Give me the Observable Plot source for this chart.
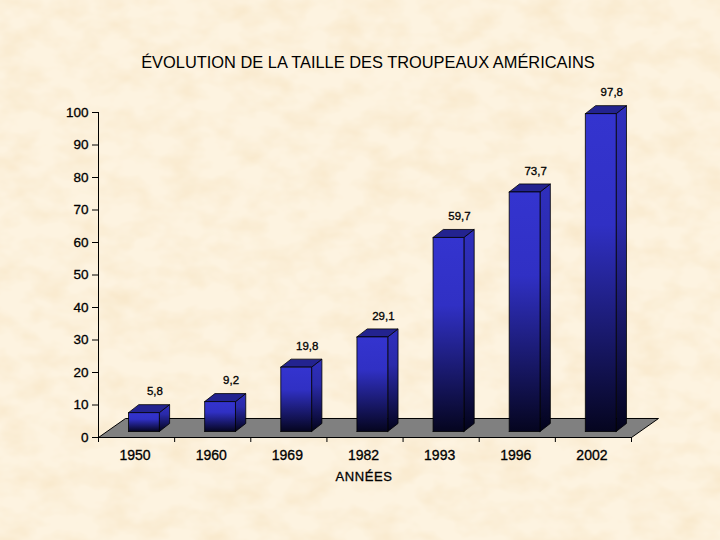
<!DOCTYPE html>
<html>
<head>
<meta charset="utf-8">
<script src="https://cdn.jsdelivr.net/npm/d3@7"></script>
<script src="https://cdn.jsdelivr.net/npm/@observablehq/plot@0.6"></script>
<style>
html,body{margin:0;padding:0;width:720px;height:540px;overflow:hidden;background-color:#fdf3e0;}
body{background-image:url("data:image/svg+xml,%3Csvg xmlns='http://www.w3.org/2000/svg' width='720' height='540'%3E%3Cfilter id='n' x='0' y='0' width='100%25' height='100%25'%3E%3CfeTurbulence type='fractalNoise' baseFrequency='0.03 0.045' numOctaves='3' seed='7'/%3E%3CfeColorMatrix values='0 0 0 0 0.93 0 0 0 0 0.78 0 0 0 0 0.55 1.3 0 0 0 -0.48'/%3E%3C/filter%3E%3Crect width='720' height='540' filter='url(%23n)'/%3E%3C/svg%3E");}
#title{box-sizing:border-box;width:720px;height:80px;padding:54px 0 0 16px;text-align:center;font:16.4px/16px "Liberation Sans",Arial,sans-serif;color:#000;white-space:nowrap;}
svg text{stroke:#000;stroke-width:.3px;}
svg{display:block;background:transparent !important;}
</style>
</head>
<body>
<div id="title">ÉVOLUTION DE LA TAILLE DES TROUPEAUX AMÉRICAINS</div>
<script>
const years = ["1950","1960","1969","1982","1993","1996","2002"];
const values = [5.8,9.2,19.8,29.1,59.7,73.7,97.8];
const labels = ["5,8","9,2","19,8","29,1","59,7","73,7","97,8"];
const yTicks = [0,10,20,30,40,50,60,70,80,90,100];
const xLabel = "ANNÉES";

// 3D projection, in data units of the two scales
const floorDepthX = 0.355, floorDepthY = 5.85;
const barInset = 0.394, barWidth = 0.405, barBase = 1.85;
const depthX = 0.135, depthY = 2.46;

const floor = [[0,0],[7,0],[7+floorDepthX,floorDepthY],[floorDepthX,floorDepthY],[0,0]].map(([x,y])=>({x,y}));

function poly(fn){
  return values.flatMap((v,i)=>{
    const l=i+barInset, r=l+barWidth, b=barBase, t=barBase+v;
    return fn(l,r,b,t).map(([x,y])=>({i,x,y}));
  });
}
const front = poly((l,r,b,t)=>[[l,b],[r,b],[r,t],[l,t],[l,b]]);
const side  = poly((l,r,b,t)=>[[r,b],[r+depthX,b+depthY],[r+depthX,t+depthY],[r,t],[r,b]]);
const top_  = poly((l,r,b,t)=>[[l,t],[r,t],[r+depthX,t+depthY],[l+depthX,t+depthY],[l,t]]);
const rows  = years.map((year,i)=>({year,i,v:values[i],label:labels[i]}));

const font = '"Liberation Sans",Arial,sans-serif';
const plot = Plot.plot({
  width:720, height:460,
  marginLeft:98, marginRight:89, marginTop:32, marginBottom:103,
  style:{background:"transparent",fontFamily:font,color:"#000"},
  x:{type:"linear",domain:[0,7],axis:null},
  y:{type:"linear",domain:[0,100],axis:null},
  marks:[
    Plot.line(floor,{x:"x",y:"y",fill:"#808080",stroke:"#000",strokeWidth:1}),
    Plot.line(side,{x:"x",y:"y",z:"i",fill:"url(#gSide)",stroke:"#000",strokeWidth:.8}),
    Plot.line(top_,{x:"x",y:"y",z:"i",fill:"#23238f",stroke:"#000",strokeWidth:.8}),
    Plot.line(front,{x:"x",y:"y",z:"i",fill:"url(#gFront)",stroke:"#000",strokeWidth:.8}),
    Plot.ruleX([0],{y1:0,y2:100,stroke:"#000"}),
    Plot.ruleY([0],{x1:0,x2:7,stroke:"#000"}),
    Plot.axisY({ticks:yTicks,tickSize:6,tickPadding:4,fontSize:13.5,label:null,marginLeft:98}),
    Plot.axisX({ticks:d3.range(0,8),tickSize:5,tickFormat:()=>"",label:null}),
    Plot.text(rows,{x:d=>d.i+0.5,y:0,text:"year",dy:18,dx:-1.5,fontSize:14}),
    Plot.text([xLabel],{x:3.5,y:0,dy:39,dx:-1,text:d=>d,fontSize:13,style:{letterSpacing:"0.6px"}}),
    Plot.text(rows,{x:d=>d.i+barInset+barWidth/2,y:d=>d.v+barBase,text:"label",dx:11,dy:-21,fontSize:11.5})
  ]
});
d3.select(plot).selectAll("text").filter(function(){return this.textContent===xLabel||this.querySelector("tspan")&&this.textContent===xLabel;}).style("letter-spacing","0.6px");
const defs = d3.select(plot).insert("defs",":first-child");
[["gFront",["#3434cf","#3030c4","#05051f"]],["gSide",["#2f2fbd","#2a2aaa","#03031a"]]].forEach(([id,c])=>{
  const g = defs.append("linearGradient").attr("id",id).attr("x1",0).attr("y1",0).attr("x2",0).attr("y2",1);
  [0,.35,1].forEach((o,k)=>g.append("stop").attr("offset",o).attr("stop-color",c[k]));
});
document.body.appendChild(plot);
</script>
</body>
</html>
